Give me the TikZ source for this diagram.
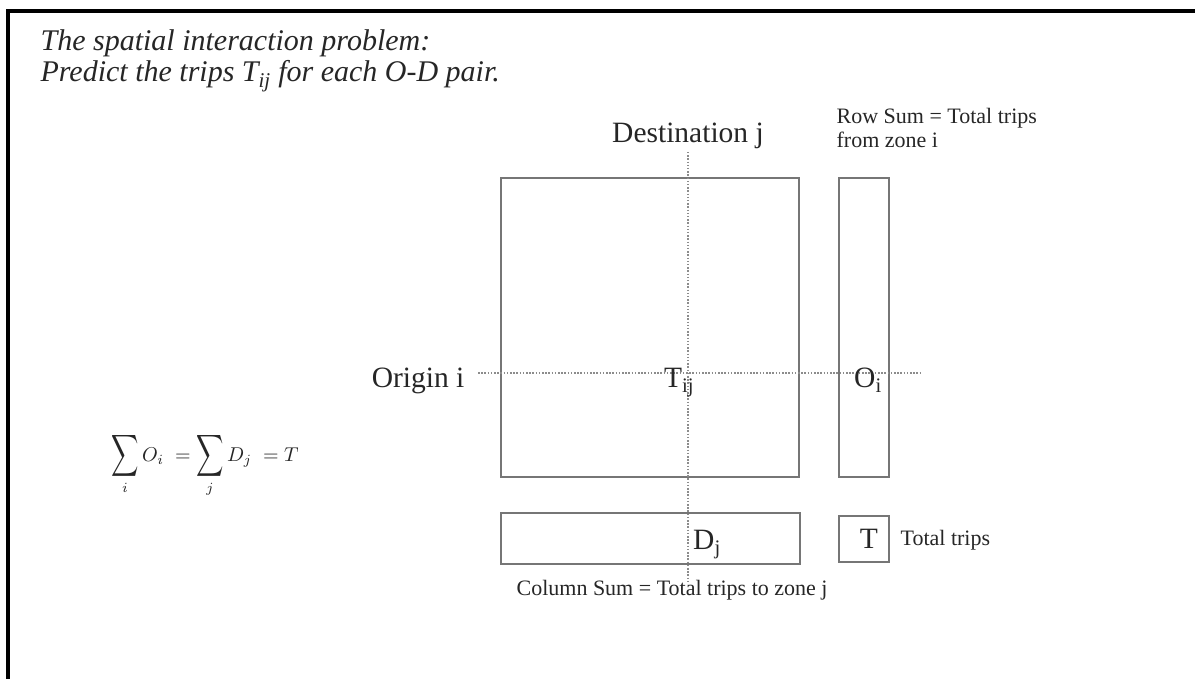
\documentclass[tikz,border=0pt]{standalone}
\usepackage{graphicx}
\usepackage{fontspec}
\setmainfont{Liberation Serif}
\usetikzlibrary{positioning}
\definecolor{boxgray}{HTML}{767676}
\definecolor{dotgray}{HTML}{8C8C8C}
\definecolor{ink}{HTML}{262626}
\newcommand{\tallsum}{\mathop{\vcenter{\hbox{\scalebox{0.95}[1.46]{$\displaystyle\sum$}}}}\limits}

\begin{document}
\begin{tikzpicture}[x=1pt,y=-1pt,line width=1.2pt,
  box/.style={draw=boxgray,inner sep=0pt},
  guide/.style={draw=dotgray,line width=1.2pt,dash pattern=on 1.5pt off 1.7pt},
  big/.style={font=\fontsize{29.5}{34}\selectfont,inner sep=0pt},
  small/.style={font=\fontsize{22}{24}\selectfont,inner sep=0pt,align=left},
  every node/.style={text=ink}]
 \useasboundingbox (0,0) rectangle (1195,679);
 \fill[white] (0,0) rectangle (1195,679);
 \draw[line width=4pt] (8,679) -- (8,11) -- (1195,11);
 % title
 \node[inner sep=0pt,anchor=base west,align=left,
   font=\fontsize{30}{31}\selectfont\itshape] (title) at (40,82)
   {The spatial interaction problem:\\
    Predict the trips \textit{T}\textsubscript{ij} for each O-D pair.};
 % matrix and sums
 \node[box,minimum width=298,minimum height=299] (flows) at (650,327.5) {};
 \node[box,minimum width=50,minimum height=299] (rowsum) at (864,327.5) {};
 \node[box,minimum width=299,minimum height=51] (colsum) at (650.5,538.5) {};
 \node[box,minimum width=50,minimum height=46] (total) at (864,539) {};
 % guide lines
 \coordinate (jtop) at (688,152); \coordinate (jbot) at (688,584);
 \coordinate (iwest) at (478,373); \coordinate (ieast) at (920,373);
 \draw[guide] (jtop) -- (jbot);
 \draw[guide] (iwest) -- (ieast);
 % labels
 \node[big,anchor=base] (dest) at (688,143) {Destination j};
 \node[big,anchor=base east] (orig) at (465,387) {Origin i};
 \node[big,anchor=base] (tij) at (679,387) {T\textsubscript{ij}};
 \node[big,anchor=base] (oi) at (868,387) {O\textsubscript{i}};
 \node[big,anchor=base] (dj) at (707,549) {D\textsubscript{j}};
 \node[big,anchor=base] (tt) at (869,548) {T};
 \node[small,anchor=base west] (rowtxt) at (836,148)
   {Row Sum = Total trips\\from zone i};
 \node[small,anchor=base west] (tottxt) at (900,545) {Total trips};
 \node[small,anchor=base west] (coltxt) at (516,595)
   {Column Sum = Total trips to zone j};
 \node[inner sep=0pt] (balance) at (205,465)
   {\scalebox{2}{$\tallsum_i O_i\; = \tallsum_j D_j\; = T$}};
\end{tikzpicture}
\end{document}
